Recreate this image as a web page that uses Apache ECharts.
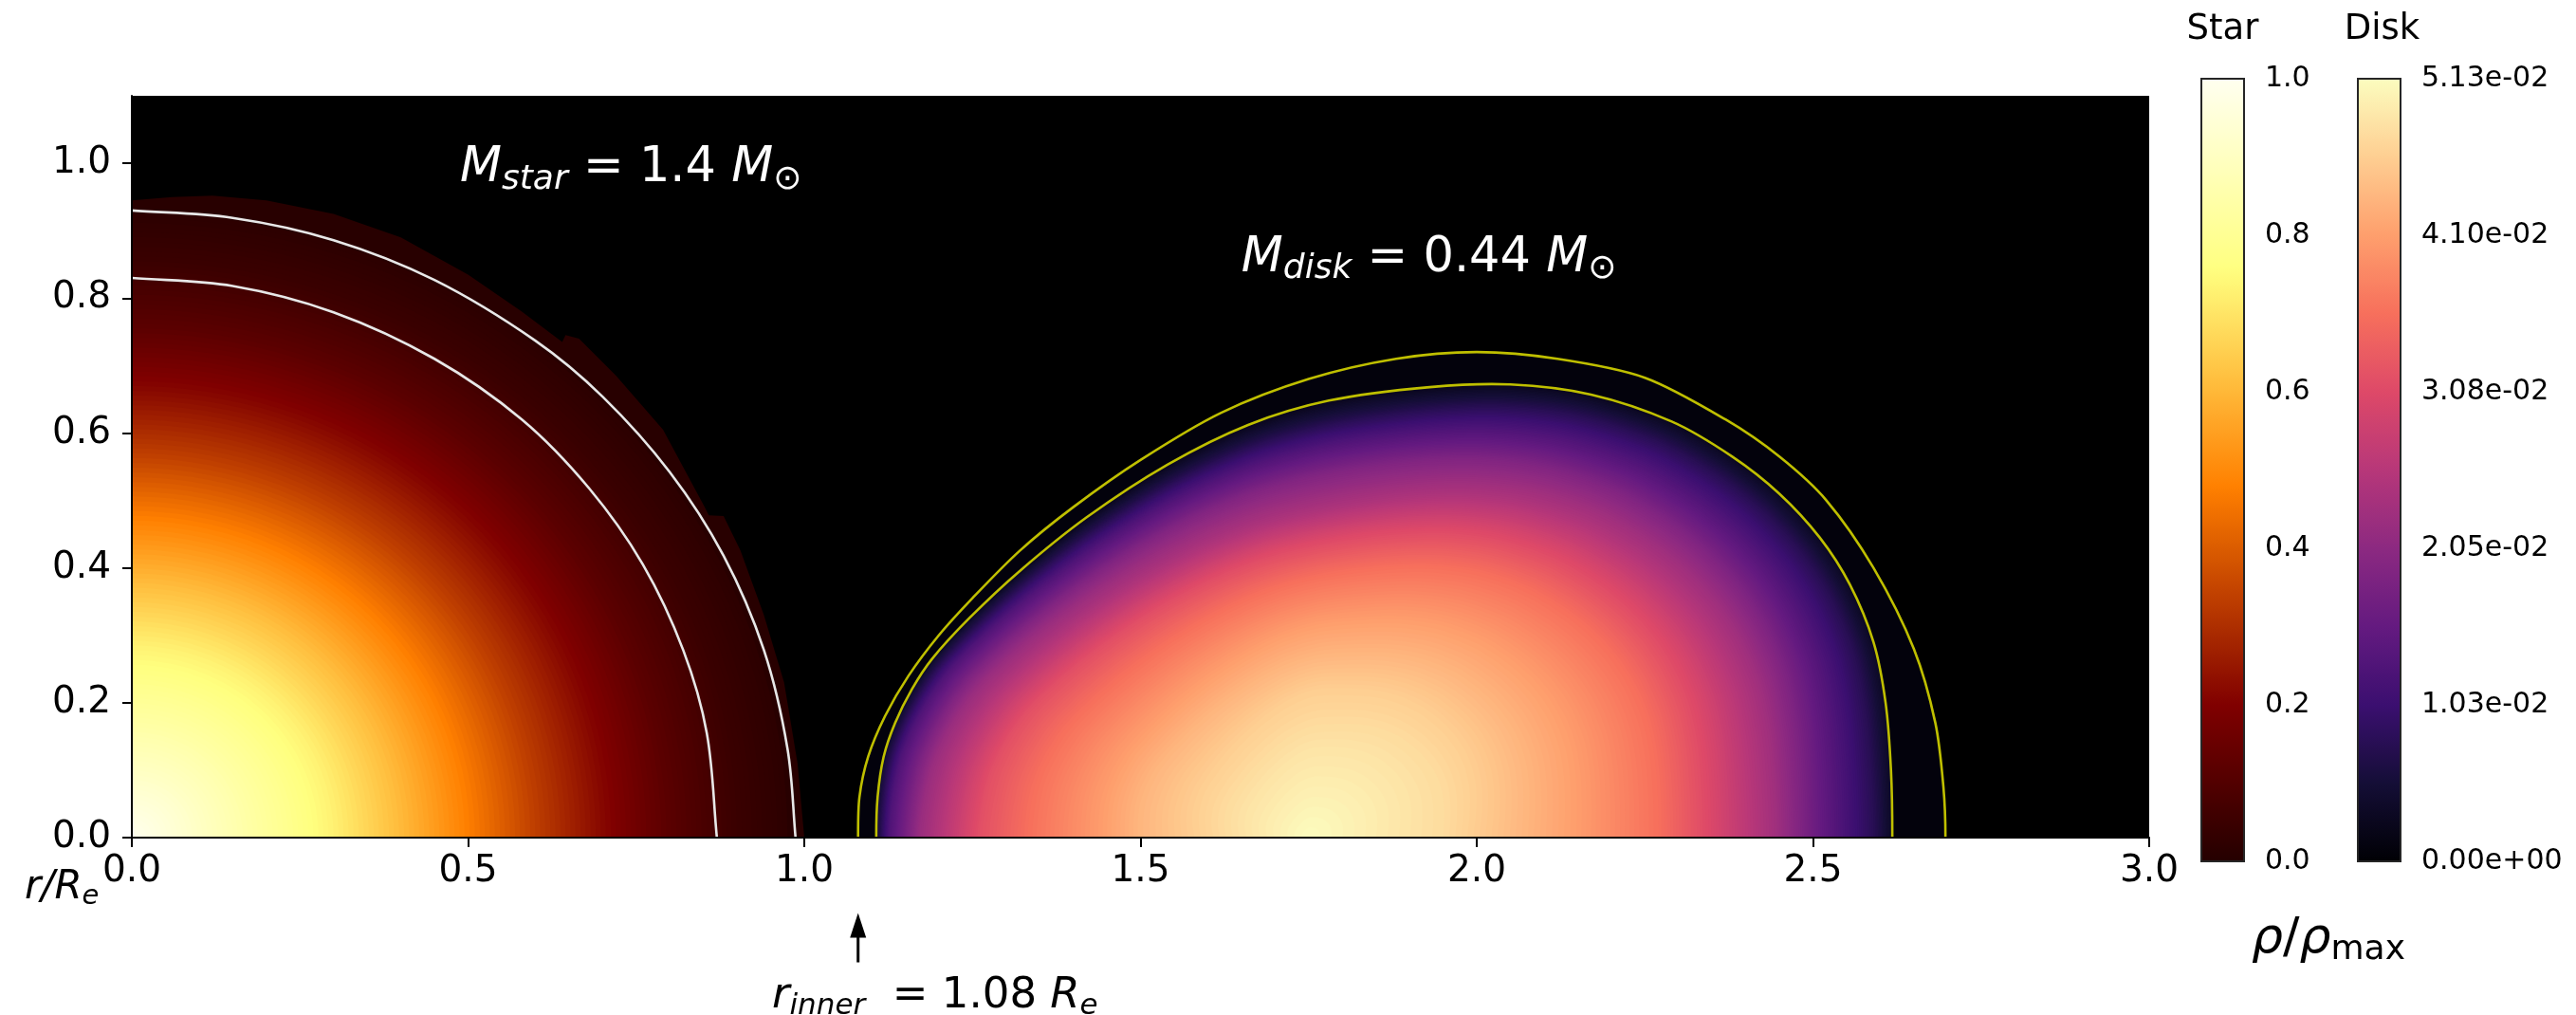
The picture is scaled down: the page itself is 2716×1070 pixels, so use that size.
<!DOCTYPE html>
<html>
<head>
<meta charset="utf-8">
<script src="https://cdn.jsdelivr.net/npm/echarts@6.0.0/dist/echarts.min.js"></script>
<style>
html,body{margin:0;padding:0;background:#ffffff;overflow:hidden;}
#chart{width:2716px;height:1070px;}
</style>
</head>
<body>
<div id="chart"></div>
<script>
// ================= values =================
const xTickValues = [0, 0.5, 1.0, 1.5, 2.0, 2.5, 3.0];
const yTickValues = [0, 0.2, 0.4, 0.6, 0.8, 1.0];
const starBarTickValues = [0, 0.2, 0.4, 0.6, 0.8, 1.0];
const diskBarTickValues = [0, 0.01026, 0.02052, 0.03078, 0.04104, 0.0513];
const diskRhoMax = 0.0513;

const starMass = 1.4;     // M_sun
const diskMass = 0.44;    // M_sun
const rInner = 1.08;      // R_e

// Star: rho/rho_max along the equatorial radius (isodensity surfaces are oblate)
const starProfileR   = [0, 0.1, 0.2, 0.3, 0.4, 0.5, 0.6, 0.7, 0.8, 0.9, 1.0];
const starProfileRho = [1.0, 0.91, 0.82, 0.73, 0.61, 0.48, 0.34, 0.22, 0.12, 0.05, 0.01];
const starAxisRatio = 0.95;   // polar / equatorial radius of the isodensity surfaces

// Star outer edge (pole -> equator)
const starEdgeX = [0, 0.06, 0.12, 0.2, 0.3, 0.4, 0.5, 0.58, 0.64, 0.645, 0.665, 0.72, 0.79, 0.852, 0.858, 0.88, 0.905, 0.94, 0.97, 0.99, 1.0];
const starEdgeY = [0.945, 0.95, 0.952, 0.945, 0.925, 0.89, 0.835, 0.78, 0.735, 0.745, 0.74, 0.685, 0.605, 0.49, 0.478, 0.477, 0.426, 0.33, 0.23, 0.11, 0];

// Star white contours (pole -> equator)
const starContourInX  = [0, 0.15, 0.3, 0.45, 0.58, 0.68, 0.76, 0.82, 0.855, 0.87];
const starContourInY  = [0.83, 0.818, 0.779, 0.71, 0.62, 0.518, 0.405, 0.278, 0.155, 0];
const starContourOutX = [0, 0.15, 0.3, 0.45, 0.6, 0.7, 0.8, 0.88, 0.94, 0.975, 0.987];
const starContourOutY = [0.93, 0.919, 0.886, 0.827, 0.737, 0.654, 0.542, 0.418, 0.278, 0.132, 0];

// Disk: density maximum, outer (edge) contour and inner contour (inner equator -> outer equator)
const diskCenter = [1.75, 0];
const diskEdgeX = [1.080, 1.082, 1.095, 1.12, 1.155, 1.20, 1.25, 1.32, 1.40, 1.50, 1.62, 1.75, 1.88, 2.00, 2.12, 2.25, 2.37, 2.45, 2.52, 2.59, 2.65, 2.682, 2.694, 2.697];
const diskEdgeY = [0, 0.06, 0.12, 0.18, 0.24, 0.30, 0.355, 0.425, 0.49, 0.56, 0.63, 0.68, 0.71, 0.72, 0.71, 0.682, 0.62, 0.565, 0.5, 0.4, 0.28, 0.17, 0.075, 0];
const diskContourX = [1.107, 1.109, 1.118, 1.135, 1.16, 1.19, 1.245, 1.32, 1.42, 1.54, 1.66, 1.78, 1.93, 2.05, 2.17, 2.29, 2.38, 2.45, 2.51, 2.555, 2.59, 2.608, 2.616, 2.618];
const diskContourY = [0, 0.06, 0.12, 0.17, 0.22, 0.265, 0.325, 0.395, 0.475, 0.553, 0.612, 0.648, 0.668, 0.672, 0.657, 0.617, 0.565, 0.51, 0.445, 0.375, 0.29, 0.2, 0.1, 0];
// Disk density along three rays from the maximum (t = fraction of the distance to the inner contour)
const diskRightT   = [0, 0.23, 0.46, 0.6, 0.685, 0.8, 0.88, 0.97, 1.0];
const diskRightRho = [0.0513, 0.0477, 0.0410, 0.0359, 0.0308, 0.0231, 0.0154, 0.0077, 0.0036];
const diskUpT      = [0, 0.2, 0.34, 0.49, 0.6, 0.68, 0.75, 0.83, 0.9, 0.96, 1.0];
const diskUpRho    = [0.0513, 0.0487, 0.0462, 0.0410, 0.0359, 0.0308, 0.0246, 0.0195, 0.0128, 0.0062, 0.0026];
const diskLeftT    = [0, 0.19, 0.39, 0.65, 0.76, 0.9, 0.97, 1.0];
const diskLeftRho  = [0.0513, 0.0477, 0.0436, 0.0359, 0.0318, 0.0221, 0.0128, 0.0051];
const diskGapRho = 0.0008;   // between the two yellow contours

// ================= layout & style =================
const FONT = 'DejaVu Sans';
const mainGrid = {left: 139, top: 101, width: 2127, height: 782};
const starBarGrid = {left: 2321, top: 83, width: 45, height: 825};
const diskBarGrid = {left: 2486, top: 83, width: 45, height: 825};

// colormaps
const magmaStops = ['#000004','#140e36','#3b0f70','#641a80','#8c2981','#b73779','#de4968','#f7705c','#fe9f6d','#fecf92','#fcfdbf'];
const magmaRGB = magmaStops.map(h => [parseInt(h.substr(1,2),16), parseInt(h.substr(3,2),16), parseInt(h.substr(5,2),16)]);
function clamp01(v){ return v < 0 ? 0 : (v > 1 ? 1 : v); }
function magma(x){
  x = clamp01(x);
  const p = x * (magmaRGB.length - 1);
  const i = Math.min(Math.floor(p), magmaRGB.length - 2);
  const f = p - i;
  const a = magmaRGB[i], b = magmaRGB[i+1];
  return 'rgb(' + [0,1,2].map(k => Math.round(a[k] + (b[k]-a[k]) * f)).join(',') + ')';
}
function afmhot(x){
  x = clamp01(x);
  const r = clamp01(2*x), g = clamp01(2*x - 0.5), b = clamp01(2*x - 1);
  return 'rgb(' + Math.round(r*255) + ',' + Math.round(g*255) + ',' + Math.round(b*255) + ')';
}
const starCmapLo = 0.07, starCmapHi = 0.97;
function starColor(v){ return afmhot(starCmapLo + (starCmapHi - starCmapLo) * v); }
function diskColor(v){ return magma(v / diskRhoMax); }

function interp(xs, ys, x){
  if (x <= xs[0]) return ys[0];
  for (let i = 1; i < xs.length; i++){
    if (x <= xs[i]) { const f = (x - xs[i-1]) / (xs[i] - xs[i-1]); return ys[i-1] + (ys[i]-ys[i-1]) * f; }
  }
  return ys[ys.length-1];
}
// distance fraction at which a decreasing profile reaches the level v
function levelT(ts, rhos, v){
  if (v >= rhos[0]) return 0;
  const n = rhos.length;
  if (v <= rhos[n-1]) return 1;
  for (let i = 1; i < n; i++){
    if (v >= rhos[i]) { const f = (rhos[i-1] - v) / (rhos[i-1] - rhos[i]); return ts[i-1] + (ts[i] - ts[i-1]) * f; }
  }
  return 1;
}
// closed loop from an upper-half curve (equator -> equator), mirrored below the equator
function loopAboutEquator(xs, ys){
  const up = xs.map((x, i) => [x, ys[i]]);
  const low = up.slice(1, -1).reverse().map(p => [p[0], -p[1]]);
  return up.concat(low);
}
// closed loop from a quarter curve (pole -> equator), mirrored into all four quadrants
function loopFromQuadrant(xs, ys){
  const q1 = xs.map((x, i) => [x, ys[i]]);
  const q4 = q1.slice().reverse().map(p => [p[0], -p[1]]);
  const q3 = q1.map(p => [-p[0], -p[1]]);
  const q2 = q1.slice().reverse().map(p => [-p[0], p[1]]);
  return q1.concat(q4, q3, q2);
}

// ---------- star renderer ----------
function renderStar(params, api){
  const children = [];
  const edge = loopFromQuadrant(starEdgeX, starEdgeY).map(p => api.coord(p));
  children.push({type: 'polygon', shape: {points: edge}, style: {fill: starColor(interp(starProfileR, starProfileRho, 1.0)), stroke: null}});
  const N = 130, tMax = 0.975, M = 160;
  for (let k = 0; k < N; k++){
    const t = tMax * (1 - k / N);
    const rho = interp(starProfileR, starProfileRho, t);
    const pts = [];
    for (let j = 0; j < M; j++){
      const a = 2 * Math.PI * j / M;
      pts.push(api.coord([t * Math.cos(a), t * starAxisRatio * Math.sin(a)]));
    }
    children.push({type: 'polygon', shape: {points: pts}, style: {fill: starColor(rho), stroke: null}});
  }
  const lineStyle = {fill: 'none', stroke: '#e8e8e8', lineWidth: 2.6};
  [[starContourInX, starContourInY], [starContourOutX, starContourOutY]].forEach(c => {
    const pts = loopFromQuadrant(c[0], c[1]).map(p => api.coord(p));
    children.push({type: 'polygon', shape: {points: pts, smooth: 0.35}, style: Object.assign({}, lineStyle)});
  });
  return {type: 'group', children: children};
}

// ---------- disk renderer ----------
function renderDisk(params, api){
  const children = [];
  const cx = diskCenter[0], cy = diskCenter[1];
  const outer = loopAboutEquator(diskEdgeX, diskEdgeY);
  const inner = loopAboutEquator(diskContourX, diskContourY);
  const angles = inner.map(p => Math.atan2(Math.abs(p[1] - cy), p[0] - cx));
  children.push({type: 'polygon', shape: {points: outer.map(p => api.coord(p)), smooth: 0.3}, style: {fill: diskColor(diskGapRho), stroke: null}});
  children.push({type: 'polygon', shape: {points: inner.map(p => api.coord(p)), smooth: 0.3}, style: {fill: diskColor(diskUpRho[diskUpRho.length - 1]), stroke: null}});
  const N = 170;
  for (let k = 1; k < N; k++){
    const v = diskRhoMax * k / N;
    const tR = levelT(diskRightT, diskRightRho, v);
    const tU = levelT(diskUpT, diskUpRho, v);
    const tL = levelT(diskLeftT, diskLeftRho, v);
    const pts = inner.map((p, i) => {
      const a = angles[i];
      let t;
      if (a <= Math.PI / 2) { const w = a / (Math.PI / 2); t = (1 - w) * tR + w * tU; }
      else { const w = (a - Math.PI / 2) / (Math.PI / 2); t = (1 - w) * tU + w * tL; }
      return api.coord([cx + t * (p[0] - cx), cy + t * (p[1] - cy)]);
    });
    children.push({type: 'polygon', shape: {points: pts, smooth: 0.3}, style: {fill: diskColor(v), stroke: null}});
  }
  const ls = {fill: 'none', stroke: '#bfbf00', lineWidth: 2.6};
  children.push({type: 'polygon', shape: {points: outer.map(p => api.coord(p)), smooth: 0.3}, style: Object.assign({}, ls)});
  children.push({type: 'polygon', shape: {points: inner.map(p => api.coord(p)), smooth: 0.3}, style: Object.assign({}, ls)});
  return {type: 'group', children: children};
}

// ---------- annotations ----------
function mathRich(size, color, subScale){
  const s = Math.round(size * (subScale || 0.7));
  return {
    it:   {fontFamily: FONT, fontStyle: 'italic', fontSize: size, color: color, lineHeight: Math.round(size * 1.35)},
    rm:   {fontFamily: FONT, fontStyle: 'normal', fontSize: size, color: color, lineHeight: Math.round(size * 1.35)},
    sub:  {fontFamily: FONT, fontStyle: 'italic', fontSize: s, color: color, padding: [Math.round(size * 0.45), 0, 0, 0]},
    subr: {fontFamily: FONT, fontStyle: 'normal', fontSize: s, color: color, padding: [Math.round(size * 0.45), 0, 0, 0]}
  };
}
const annotationAnchors = [
  // x, y (data units), kind
  [0.488, 0.992, 0],          // star mass
  [1.650, 0.859, 1],          // disk mass
  [rInner, -0.112, 2],        // arrow tip
  [0.952, -0.236, 3]          // r_inner label (left edge)
];
const arrowTailY = -0.185;
function textEl(pt, text, rich, align){
  return {type: 'text', x: pt[0], y: pt[1], style: {text: text, rich: rich, fill: rich.rm.color,
    align: align, verticalAlign: 'middle', textAlign: align, textVerticalAlign: 'middle',
    fontFamily: FONT, fontSize: rich.rm.fontSize}};
}
function renderAnnotation(params, api){
  const kind = api.value(2);
  const pt = api.coord([api.value(0), api.value(1)]);
  if (kind === 0) return textEl(pt, '{it|M}{sub|star}{rm| = ' + starMass + ' }{it|M}{sub|⊙}', mathRich(51, '#ffffff'), 'left');
  if (kind === 1) return textEl(pt, '{it|M}{sub|disk}{rm| = ' + diskMass + ' }{it|M}{sub|⊙}', mathRich(51, '#ffffff'), 'left');
  if (kind === 2){
    const tail = api.coord([api.value(0), arrowTailY]);
    const head = 26, hw = 8.5;
    return {type: 'group', children: [
      {type: 'line', shape: {x1: tail[0], y1: tail[1], x2: pt[0], y2: pt[1] + head - 2}, style: {stroke: '#000', lineWidth: 3}},
      {type: 'polygon', shape: {points: [[pt[0], pt[1]], [pt[0] - hw, pt[1] + head], [pt[0] + hw, pt[1] + head]]}, style: {fill: '#000', stroke: null}}
    ]};
  }
  return textEl(pt, '{it|r}{sub|inner}{rm|  = ' + rInner.toFixed(2) + ' }{it|R}{sub|e}', mathRich(45, '#000000'), 'left');
}

// ---------- colorbars ----------
function barGradient(fn){
  const stops = [];
  for (let i = 0; i <= 50; i++) stops.push({offset: i / 50, color: fn(i / 50)});
  return new echarts.graphic.LinearGradient(0, 1, 0, 0, stops);
}
function renderBar(fn){
  return function(params, api){
    const a = api.coord([0, api.value(0)]);
    const b = api.coord([1, api.value(1)]);
    return {type: 'rect', shape: {x: a[0], y: b[1], width: b[0] - a[0], height: a[1] - b[1]},
      style: {fill: barGradient(fn), stroke: '#262626', lineWidth: 2}};
  };
}
function sci(v){
  if (Math.abs(v) < 1e-12) return '0.00e+00';
  const s = v.toExponential(2);
  const m = s.split('e');
  const e = parseInt(m[1], 10);
  return m[0] + 'e' + (e < 0 ? '-' : '+') + String(Math.abs(e)).padStart(2, '0');
}

const tickStyle = {show: true, inside: false, length: 10, lineStyle: {color: '#000', width: 2}};
const option = {
  animation: false,
  backgroundColor: '#ffffff',
  grid: [
    Object.assign({show: true, backgroundColor: '#000000', borderWidth: 0}, mainGrid),
    Object.assign({show: false}, starBarGrid),
    Object.assign({show: false}, diskBarGrid)
  ],
  xAxis: [
    {gridIndex: 0, type: 'value', min: 0, max: 3, interval: 0.5, z: 10,
     axisLine: {show: true, onZero: false, lineStyle: {color: '#000', width: 2}},
     axisTick: Object.assign({customValues: xTickValues}, tickStyle),
     axisLabel: {customValues: xTickValues, showMinLabel: true, showMaxLabel: true, fontSize: 39, fontFamily: FONT, color: '#000', margin: 16, formatter: v => v.toFixed(1)},
     splitLine: {show: false}},
    {gridIndex: 1, type: 'value', min: 0, max: 1, show: false},
    {gridIndex: 2, type: 'value', min: 0, max: 1, show: false}
  ],
  yAxis: [
    {gridIndex: 0, type: 'value', min: 0, max: 1.1, interval: 0.2, z: 10,
     axisLine: {show: true, onZero: false, lineStyle: {color: '#000', width: 2}},
     axisTick: Object.assign({customValues: yTickValues}, tickStyle),
     axisLabel: {customValues: yTickValues, showMinLabel: true, showMaxLabel: true, fontSize: 39, fontFamily: FONT, color: '#000', margin: 22,
                 formatter: v => (v > 1.05 ? '' : v.toFixed(1))},
     splitLine: {show: false}},
    {gridIndex: 1, type: 'value', position: 'right', min: 0, max: 1, interval: 0.2,
     axisLine: {show: false}, axisTick: Object.assign({customValues: starBarTickValues}, tickStyle, {length: 11, lineStyle: {color: '#262626', width: 2}}),
     axisLabel: {customValues: starBarTickValues, showMinLabel: true, showMaxLabel: true, fontSize: 30, fontFamily: FONT, color: '#000', margin: 22, formatter: v => v.toFixed(1)},
     splitLine: {show: false}},
    {gridIndex: 2, type: 'value', position: 'right', min: 0, max: diskRhoMax, interval: diskRhoMax / 5,
     axisLine: {show: false}, axisTick: Object.assign({customValues: diskBarTickValues}, tickStyle, {length: 11, lineStyle: {color: '#262626', width: 2}}),
     axisLabel: {customValues: diskBarTickValues, showMinLabel: true, showMaxLabel: true, fontSize: 30, fontFamily: FONT, color: '#000', margin: 22, formatter: v => sci(v)},
     splitLine: {show: false}}
  ],
  series: [
    {type: 'custom', name: 'star', xAxisIndex: 0, yAxisIndex: 0, clip: true, silent: true, data: [[0, 0]], renderItem: renderStar},
    {type: 'custom', name: 'disk', xAxisIndex: 0, yAxisIndex: 0, clip: true, silent: true, data: [[diskCenter[0], diskCenter[1]]], renderItem: renderDisk},
    {type: 'custom', name: 'annotations', xAxisIndex: 0, yAxisIndex: 0, clip: false, silent: true, z: 20, data: annotationAnchors, renderItem: renderAnnotation},
    {type: 'custom', name: 'starBar', xAxisIndex: 1, yAxisIndex: 1, clip: false, silent: true, data: [[0, 1]], renderItem: renderBar(starColor)},
    {type: 'custom', name: 'diskBar', xAxisIndex: 2, yAxisIndex: 2, clip: false, silent: true, data: [[0, diskRhoMax]], renderItem: renderBar(v => magma(v))}
  ],
  graphic: [
    {type: 'text', x: starBarGrid.left + starBarGrid.width / 2, y: 31,
     style: {text: 'Star', fontSize: 37, fontFamily: FONT, fill: '#000', align: 'center', verticalAlign: 'middle', textAlign: 'center', textVerticalAlign: 'middle'}},
    {type: 'text', x: diskBarGrid.left + diskBarGrid.width / 2 + 3, y: 31,
     style: {text: 'Disk', fontSize: 37, fontFamily: FONT, fill: '#000', align: 'center', verticalAlign: 'middle', textAlign: 'center', textVerticalAlign: 'middle'}},
    {type: 'text', x: 2455, y: 990,
     style: {text: '{it|ρ}{rm|/}{it|ρ}{subr|max}', rich: mathRich(52, '#000000'), fill: '#000', align: 'center', verticalAlign: 'middle', textAlign: 'center', textVerticalAlign: 'middle'}},
    {type: 'text', x: 26, y: 936,
     style: {text: '{it|r/R}{sub|e}', rich: mathRich(42, '#000000'), fill: '#000', align: 'left', verticalAlign: 'middle', textAlign: 'left', textVerticalAlign: 'middle'}}
  ]
};

const chart = echarts.init(document.getElementById('chart'), null, {renderer: 'canvas', width: 2716, height: 1070});
chart.setOption(option);
</script>
</body>
</html>
